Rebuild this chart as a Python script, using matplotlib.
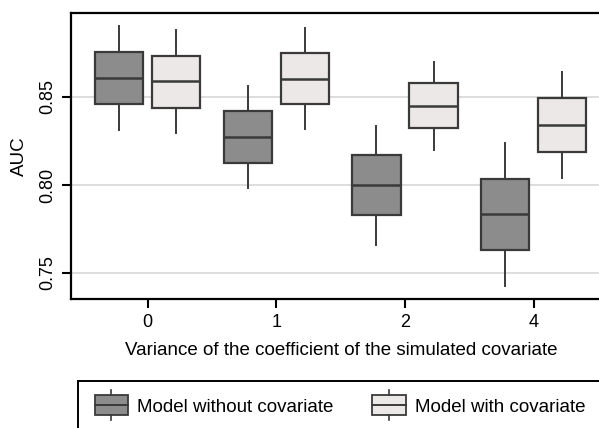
import matplotlib.pyplot as plt
from matplotlib.legend_handler import HandlerBase
from matplotlib.patches import Rectangle
from matplotlib.lines import Line2D

plt.rcParams["font.family"] = ["Liberation Sans", "DejaVu Sans"]

groups = ["0", "1", "2", "4"]
labels = ["Model without covariate", "Model with covariate"]
colors = ["#8c8c8c", "#ece8e7"]

# whisker low, Q1, median, Q3, whisker high
without_cov = [
  (0.8314, 0.8460, 0.8608, 0.8757, 0.8905),
  (0.7981, 0.8127, 0.8275, 0.8420, 0.8564),
  (0.7661, 0.7830, 0.8002, 0.8170, 0.8337),
  (0.7428, 0.7631, 0.7833, 0.8034, 0.8237),
]
with_cov = [
  (0.8295, 0.8439, 0.8589, 0.8735, 0.8879),
  (0.8320, 0.8462, 0.8604, 0.8748, 0.8890),
  (0.8199, 0.8326, 0.8451, 0.8578, 0.8701),
  (0.8038, 0.8189, 0.8341, 0.8494, 0.8644),
]

edge = "#3a3a3a"


def to_stats(rows):
  return [
    dict(whislo=r[0], q1=r[1], med=r[2], q3=r[3], whishi=r[4], fliers=[])
    for r in rows
  ]


fig = plt.figure(figsize=(5.99, 4.28), dpi=100)
W, H = 599, 428
ax = fig.add_axes([71 / W, 1 - 299 / H, 540 / W, 286 / H])

offset = 0.222
width = 0.375
for k, (series, col) in enumerate(zip([without_cov, with_cov], colors)):
  pos = [i + (2 * k - 1) * offset for i in range(len(groups))]
  ax.bxp(
    to_stats(series), positions=pos, widths=width, patch_artist=True,
    showcaps=False, showfliers=False,
    boxprops=dict(facecolor=col, edgecolor=edge, linewidth=1.6),
    medianprops=dict(color=edge, linewidth=1.8),
    whiskerprops=dict(color=edge, linewidth=1.4),
    manage_ticks=False, zorder=3,
  )

ax.set_xlim(-0.595, 3.6)
ax.set_ylim(0.7352, 0.8977)
ax.set_yticks([0.75, 0.80, 0.85])
ax.set_yticklabels(["0.75", "0.80", "0.85"], rotation=90, va="center")
ax.set_xticks(range(len(groups)))
ax.set_xticklabels(groups)
ax.yaxis.grid(True, color="#dddddd", linewidth=1.4, zorder=0)
ax.set_axisbelow(True)
ax.tick_params(direction="out", length=6.5, width=1.5, labelsize=13,
               color="black", pad=4)
for s in ax.spines.values():
  s.set_linewidth(1.6)
ax.set_ylabel("AUC", fontsize=13.5, labelpad=8)
ax.set_xlabel("Variance of the coefficient of the simulated covariate",
              fontsize=13.5, labelpad=8)


class BoxHandler(HandlerBase):
  def create_artists(self, legend, orig, xd, yd, w, h, fs, trans):
    bw, bh = 24, 14
    x0 = xd + (w - bw) / 2
    y0 = yd + (h - bh) / 2
    rect = Rectangle((x0, y0), bw, bh, facecolor=orig.get_facecolor(),
                     edgecolor=edge, linewidth=1.3, transform=trans)
    cx = x0 + bw / 2
    med = Line2D([x0, x0 + bw], [y0 + bh / 2] * 2, color=edge, lw=1.4,
                 transform=trans)
    top = Line2D([cx, cx], [y0 + bh, y0 + bh + 4], color=edge, lw=1.2,
                 transform=trans)
    bot = Line2D([cx, cx], [y0 - 4, y0], color=edge, lw=1.2, transform=trans)
    return [rect, med, top, bot]


handles = [Rectangle((0, 0), 1, 1, facecolor=c) for c in colors]
fig.patches.append(Rectangle((78 / W, -0.1), 0.9, 1 - 381 / H + 0.1,
                             transform=fig.transFigure, fill=False,
                             edgecolor="black", linewidth=1.4))
fig.legend(handles, labels, handler_map={Rectangle: BoxHandler()},
           loc="center left", bbox_to_anchor=(99 / W, 1 - 407 / H),
           ncol=2, frameon=False, fontsize=13.5, handlelength=1.3,
           handletextpad=0.75, columnspacing=2.3, borderpad=0,
           borderaxespad=0)

fig.savefig("out.png", dpi=100)
